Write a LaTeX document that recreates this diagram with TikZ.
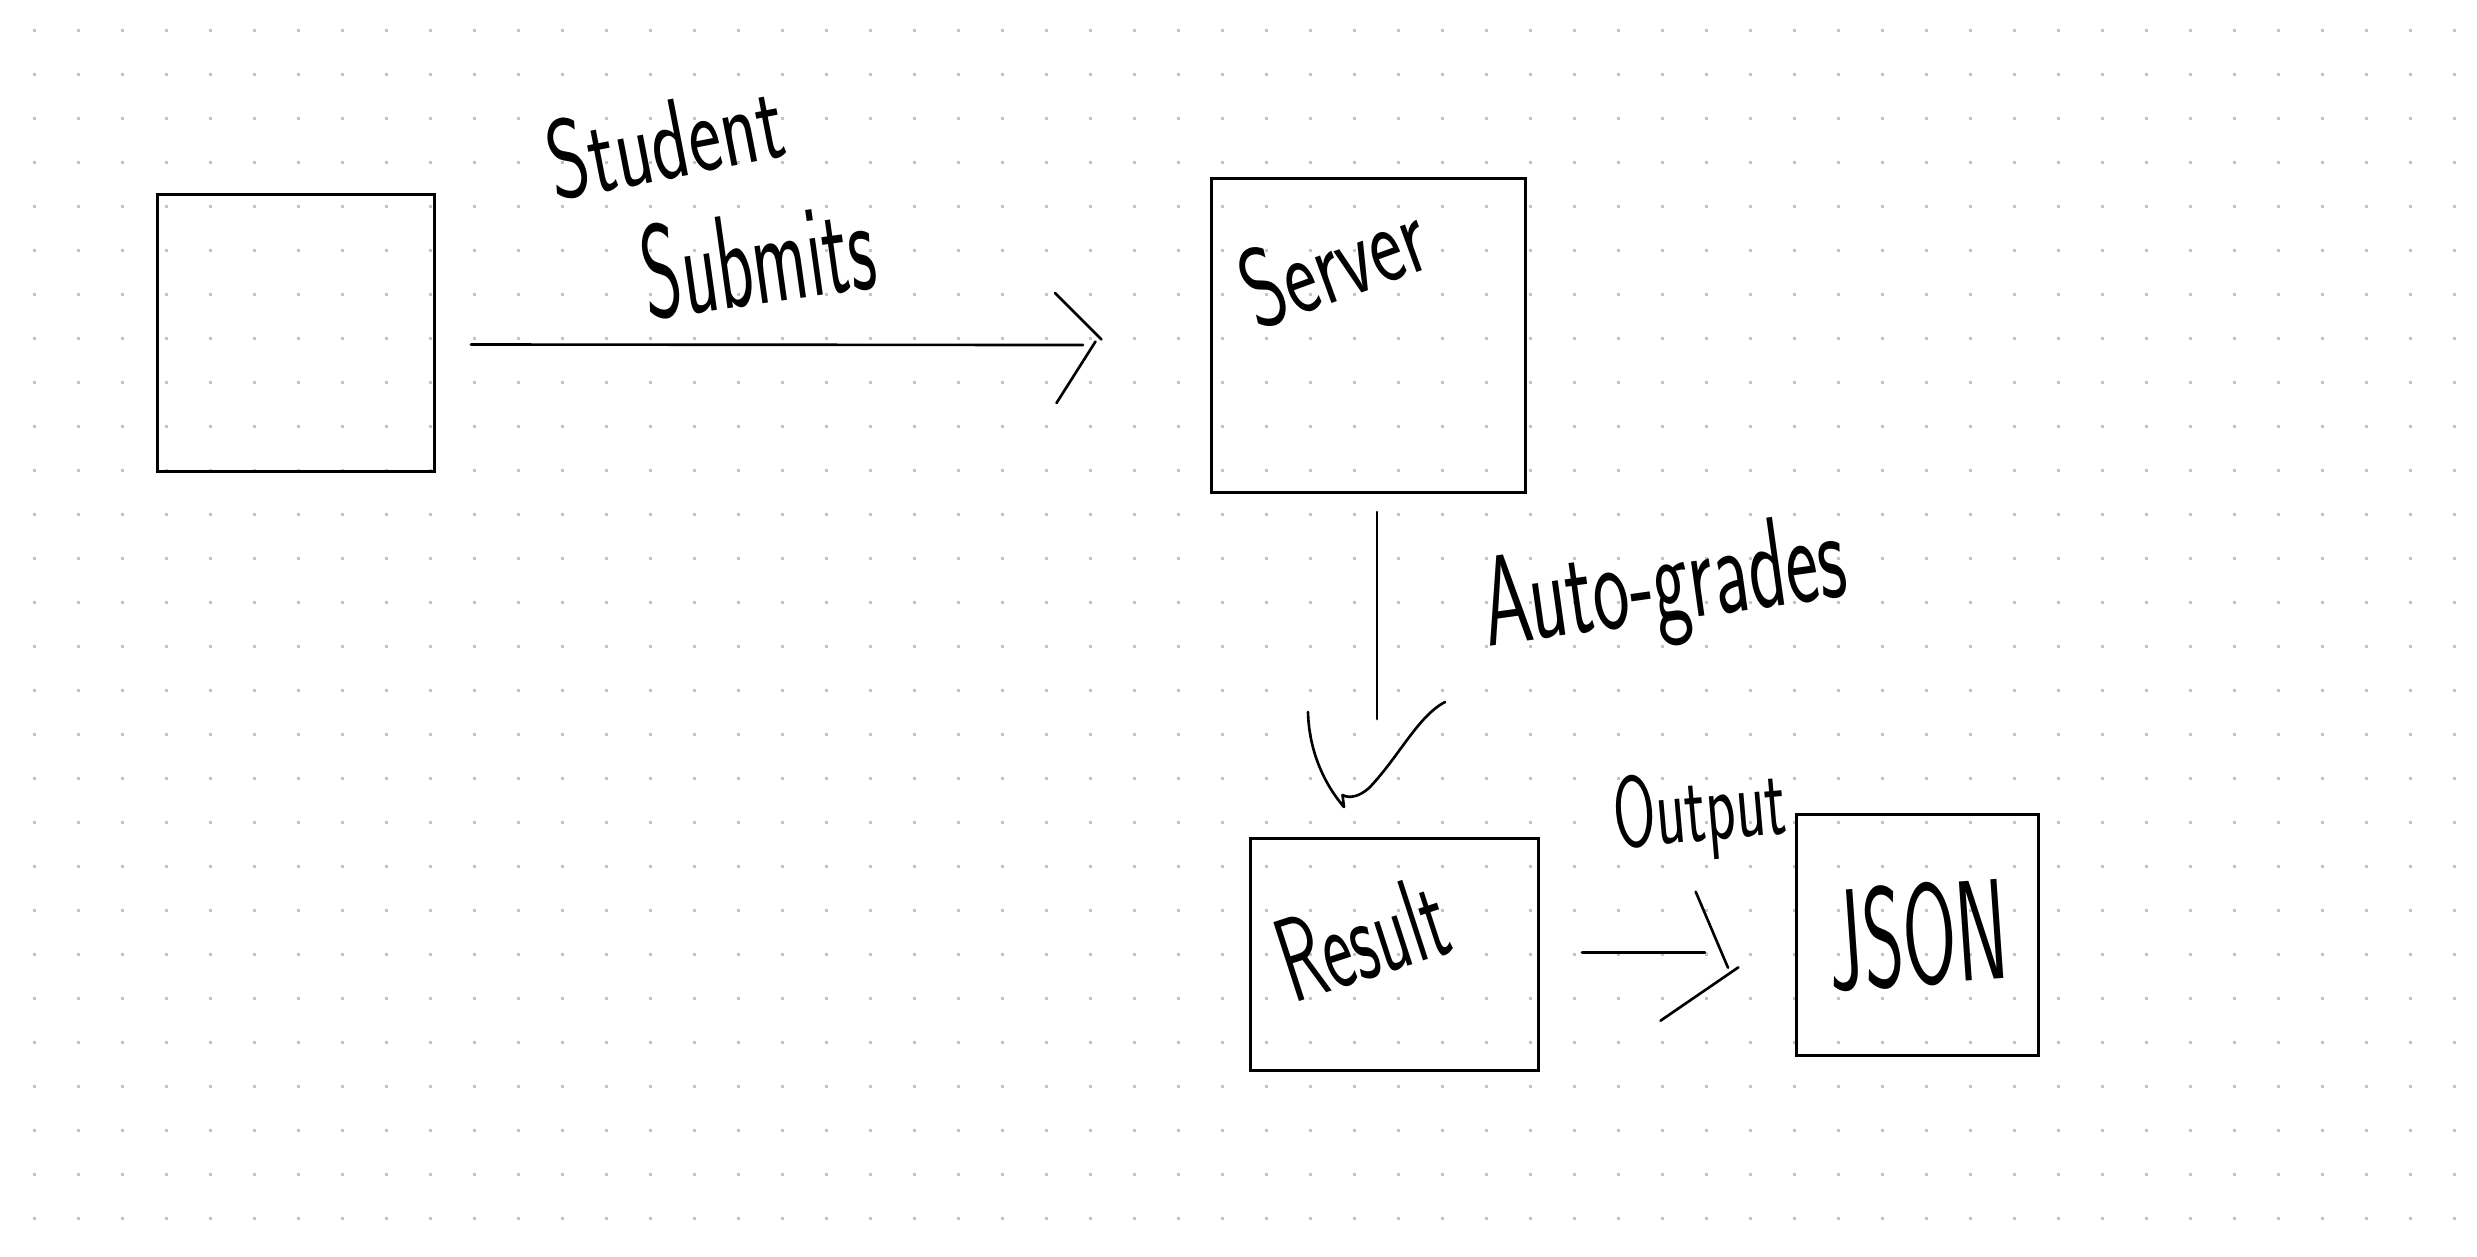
\documentclass[tikz,border=0pt]{standalone}
\usetikzlibrary{calc}
\definecolor{dotgray}{HTML}{C4C4C4}
\begin{document}
\begin{tikzpicture}[x=0.01cm,y=-0.01cm,
  box/.style={draw=black,line width=0.85pt,inner sep=0pt,rectangle},
  ink/.style={line width=0.75pt,line cap=round,line join=round},
  hand/.style={inner sep=0pt,transform shape}]
\path[use as bounding box,fill=white] (0,0) rectangle (2477,1256);
\foreach \i in {0,...,55}{\foreach \j in {0,...,27}{\fill[dotgray] ({34+44*\i-1.5},{30+44*\j-1.5}) rectangle +(3,3);}}

% boxes
\node[box,minimum width=2.76cm,minimum height=2.76cm] (client) at (296,333) {};
\node[box,minimum width=3.13cm,minimum height=3.13cm] (server) at (1368.5,335.5) {};
\node[box,minimum width=2.87cm,minimum height=2.31cm] (result) at (1394.5,954.5) {};
\node[box,minimum width=2.41cm,minimum height=2.40cm] (json) at (1917.5,935) {};

% handwritten labels
\node[hand,rotate=11,yscale=1.45,font=\sffamily\fontsize{22}{22}\selectfont] (lstudent) at (665,140) {Student};
\node[hand,rotate=8,yscale=1.8,font=\sffamily\fontsize{21}{21}\selectfont] (lsubmits) at (758,258) {Submits};
\node[hand,rotate=20,yscale=1.45,font=\sffamily\fontsize{22}{22}\selectfont] (lserver) at (1333,262) {Server};
\node[hand,rotate=8,yscale=1.65,font=\sffamily\fontsize{22}{22}\selectfont] (lauto) at (1665,590) {Auto-grades};
\node[hand,rotate=5,yscale=1.65,font=\sffamily\fontsize{17.4}{17.4}\selectfont] (loutput) at (1700,815) {Output};
\node[hand,rotate=18,yscale=1.7,font=\sffamily\fontsize{20}{20}\selectfont] (lresult) at (1362,938) {Result};
\node[hand,rotate=4,yscale=1.85,font=\sffamily\fontsize{22}{22}\selectfont] (ljson) at (1918,935) {JSON};

% arrow 1: Student submits
\coordinate (a1s) at (471,344.5);
\coordinate (a1e) at (1083,345);
\coordinate (a1u) at (1055,293);
\coordinate (a1t) at (1101.5,339.5);
\coordinate (a1v) at (1095.5,341.5);
\coordinate (a1l) at (1056.5,403);
\draw[ink] (a1s) -- (a1e);
\draw[ink] (a1u) -- (a1t);
\draw[ink] (a1v) -- (a1l);

% arrow 2: Auto-grades
\coordinate (a2s) at (1377,512);
\coordinate (a2e) at (1377,719);
\coordinate (a2h) at (1308,712);
\coordinate (a2b) at (1344,807);
\coordinate (a2k) at (1342.5,795);
\coordinate (a2r) at (1445,702);
\draw[ink] (a2s) -- (a2e);
\draw[ink] (a2h) .. controls (1309,752) and (1325,785) .. (a2b) -- (a2k)
  .. controls (1350,799) and (1360,796) .. (1369,788)
  .. controls (1398,758) and (1418,716) .. (a2r);

% arrow 3: Output
\coordinate (a3s) at (1582,952.7);
\coordinate (a3e) at (1705,952.7);
\coordinate (a3u) at (1695.7,891.7);
\coordinate (a3t) at (1728,967.7);
\coordinate (a3v) at (1738.4,967.3);
\coordinate (a3l) at (1660.5,1020.7);
\draw[ink] (a3s) -- (a3e);
\draw[ink] (a3u) -- (a3t);
\draw[ink] (a3v) -- (a3l);
\end{tikzpicture}
\end{document}
